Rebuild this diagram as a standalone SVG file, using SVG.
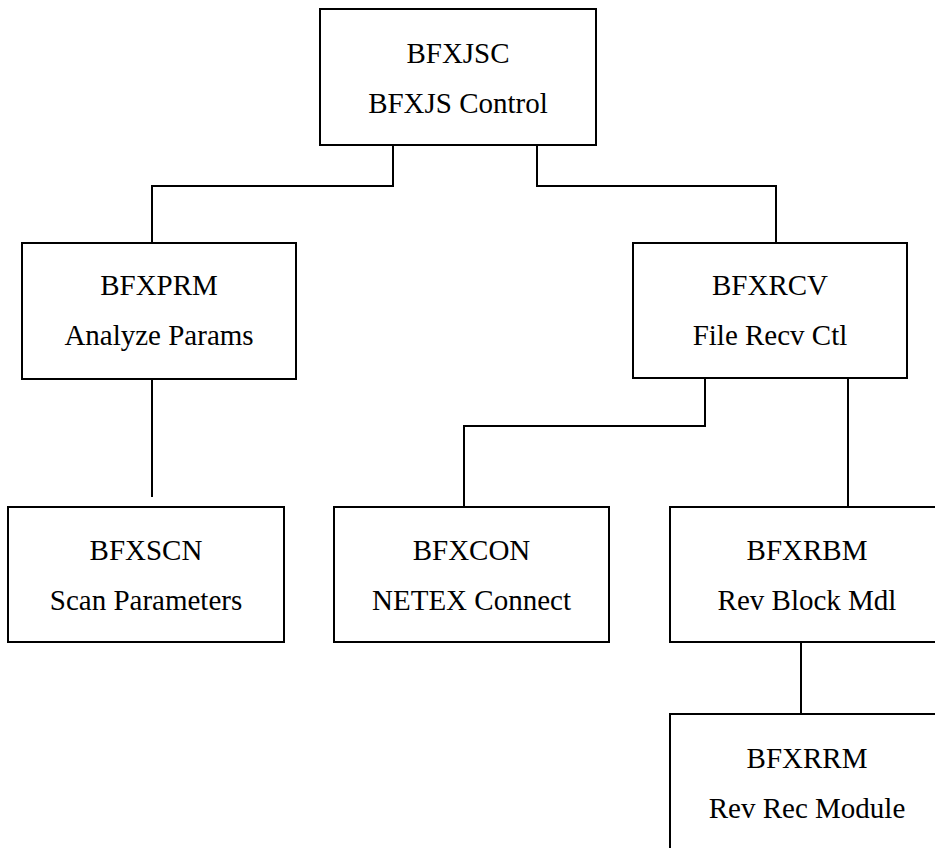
<svg xmlns="http://www.w3.org/2000/svg" width="935" height="848" viewBox="0 0 935 848">
<style>
.box{fill:#fff;stroke:#000;stroke-width:2}
.conn{fill:none;stroke:#000;stroke-width:2}
text{font-family:"Liberation Serif",serif;font-size:29px;fill:#000;text-anchor:middle}
</style>
<rect width="935" height="848" fill="#fff"/>
<g id="connectors">
<polyline class="conn" points="393,145 393,186 152,186 152,243"/>
<polyline class="conn" points="537,145 537,186 776,186 776,243"/>
<polyline class="conn" points="152,379 152,497"/>
<polyline class="conn" points="705,378 705,426 464,426 464,507"/>
<polyline class="conn" points="848,378 848,507"/>
<polyline class="conn" points="801,642 801,714"/>
</g>
<g id="BFXJSC">
<rect class="box" x="320" y="9" width="276" height="136"/>
<text x="458" y="63">BFXJSC</text>
<text x="458" y="113">BFXJS Control</text>
</g>
<g id="BFXPRM">
<rect class="box" x="22" y="243" width="274" height="136"/>
<text x="159" y="295">BFXPRM</text>
<text x="159" y="345">Analyze Params</text>
</g>
<g id="BFXRCV">
<rect class="box" x="633" y="243" width="274" height="135"/>
<text x="770" y="295">BFXRCV</text>
<text x="770" y="345">File Recv Ctl</text>
</g>
<g id="BFXSCN">
<rect class="box" x="8" y="507" width="276" height="135"/>
<text x="146" y="560">BFXSCN</text>
<text x="146" y="610">Scan Parameters</text>
</g>
<g id="BFXCON">
<rect class="box" x="334" y="507" width="275" height="135"/>
<text x="471.5" y="560">BFXCON</text>
<text x="471.5" y="610">NETEX Connect</text>
</g>
<g id="BFXRBM">
<rect class="box" x="670" y="507" width="275" height="135"/>
<text x="807" y="560">BFXRBM</text>
<text x="807" y="610">Rev Block Mdl</text>
</g>
<g id="BFXRRM">
<rect class="box" x="670" y="714" width="275" height="140"/>
<text x="807" y="768">BFXRRM</text>
<text x="807" y="818">Rev Rec Module</text>
</g>
</svg>
